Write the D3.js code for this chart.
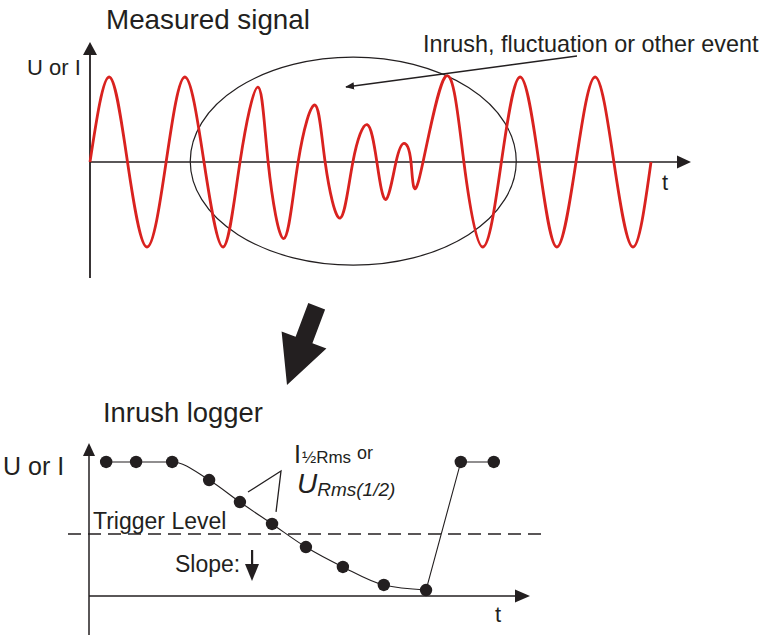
<!DOCTYPE html>
<html>
<head>
<meta charset="utf-8">
<script src="https://cdn.jsdelivr.net/npm/d3@7"></script>
<style>
  body { margin: 0; background: #fff; }
  svg { display: block; font-family: "Liberation Sans", Arial, sans-serif; }
  text { fill: #231f20; }
</style>
</head>
<body>
<svg id="chart" width="763" height="637"></svg>
<script>
// top chart: measured signal, time in ms, value relative to nominal peak
// key points: zero crossings, peaks, troughs
const signalT = [0, 5.1, 10, 15.2, 20.3, 25.3, 30.4, 35.5, 40, 44.8, 47.5, 51.7, 55.5,
  60, 62.7, 66.7, 70.1, 73.9, 76.5, 78.9, 81.6, 83.7, 85.6, 87.7, 94.7, 99.7,
  104.8, 109.7, 114.7, 119.7, 124.5, 129.6, 134.7, 139.7, 144.8, 149.6];
const signalV = [0, 1, 0, -1, 0, 1, 0, -1, 0, 0.88, 0, -0.9, 0,
  0.67, 0, -0.66, 0, 0.44, 0, -0.44, 0, 0.22, 0, -0.21, 1, 0,
  -1, 0, 1, 0, -1, 0, 1, 0, -1, 0];

// bottom chart: half-cycle rms values
const rmsT = [0.39, 1.07, 1.89, 2.73, 3.43, 4.16, 4.93, 5.77, 6.7, 7.66, 8.45, 9.2];
const rmsV = [8.76, 8.76, 8.76, 7.58, 6.14, 4.71, 3.2, 1.9, 0.72, 0.39, 8.76, 8.76];
const triggerLevel = 4.05;

const svg = d3.select("#chart");
const ink = "#231f20";

// ---------- top chart ----------
const x1 = d3.scaleLinear().domain([0, 160]).range([90, 690]);
const y1 = d3.scaleLinear().domain([-1, 1]).range([247, 77]);

svg.append("text").attr("x", 106).attr("y", 29)
  .style("font-size", "27.8px").text("Measured signal");

// axes
svg.append("line").attr("x1", x1(0)).attr("x2", x1(0))
  .attr("y1", 52).attr("y2", 278).attr("stroke", ink).attr("stroke-width", 1.8);
svg.append("path").attr("d", "M83,55L97,55L90,42Z").attr("fill", ink);
svg.append("line").attr("x1", x1(0)).attr("x2", 680)
  .attr("y1", y1(0)).attr("y2", y1(0)).attr("stroke", ink).attr("stroke-width", 1.5);
svg.append("path").attr("d", `M677,${y1(0) - 6.5}L691,${y1(0)}L677,${y1(0) + 6.5}Z`).attr("fill", ink);

svg.append("text").attr("x", 27).attr("y", 75).style("font-size", "22px").text("U or I");
svg.append("text").attr("x", 662).attr("y", 190).style("font-size", "22px").text("t");

// ellipse around the event
svg.append("ellipse")
  .attr("cx", x1(70.2)).attr("cy", y1(0.01))
  .attr("rx", x1(163 / 3.75) - x1(0)).attr("ry", 104)
  .attr("fill", "none").attr("stroke", ink).attr("stroke-width", 1.2);

const signal = signalT.map((t, i) => ({ t, v: signalV[i] }));
const line1 = d3.line().x(d => x1(d.t)).y(d => y1(d.v)).curve(d3.curveNatural);
svg.append("path").datum(signal).attr("d", line1)
  .attr("fill", "none").attr("stroke", "#d9221f").attr("stroke-width", 2.8);

// annotation
svg.append("defs").append("marker")
  .attr("id", "ah").attr("viewBox", "0 0 10 10").attr("refX", 9).attr("refY", 5)
  .attr("markerWidth", 9).attr("markerHeight", 9).attr("orient", "auto")
  .attr("markerUnits", "userSpaceOnUse")
  .append("path").attr("d", "M0,1L10,5L0,9Z").attr("fill", ink);
svg.append("line").attr("x1", 577).attr("y1", 56).attr("x2", 346).attr("y2", 87)
  .attr("stroke", ink).attr("stroke-width", 1.3).attr("marker-end", "url(#ah)");
svg.append("text").attr("x", 423).attr("y", 52).style("font-size", "23.4px")
  .text("Inrush, fluctuation or other event");

// big arrow between the charts
svg.append("path")
  .attr("d", "M308.3,303.1L325.1,309.5L312.4,343.2L326.4,348.5L287,385L281.6,331.5L295.6,336.8Z")
  .attr("fill", ink);

// ---------- bottom chart ----------
const x2 = d3.scaleLinear().domain([0, 10]).range([89, 529]);
const y2 = d3.scaleLinear().domain([0, 10]).range([596, 443]);

svg.append("text").attr("x", 103).attr("y", 422)
  .style("font-size", "27.4px").text("Inrush logger");

svg.append("line").attr("x1", x2(0)).attr("x2", x2(0))
  .attr("y1", 452).attr("y2", 635).attr("stroke", ink).attr("stroke-width", 1.5);
svg.append("path").attr("d", "M83,456L95,456L89,443Z").attr("fill", ink);
svg.append("line").attr("x1", x2(0)).attr("x2", 518)
  .attr("y1", y2(0)).attr("y2", y2(0)).attr("stroke", ink).attr("stroke-width", 1.5);
svg.append("path").attr("d", `M515,${y2(0) - 6.5}L530,${y2(0)}L515,${y2(0) + 6.5}Z`).attr("fill", ink);

svg.append("text").attr("x", 3).attr("y", 475).style("font-size", "25px").text("U or I");
svg.append("text").attr("x", 495).attr("y", 622).style("font-size", "22px").text("t");

// trigger level
svg.append("line").attr("x1", 68).attr("x2", 546)
  .attr("y1", y2(triggerLevel)).attr("y2", y2(triggerLevel))
  .attr("stroke", ink).attr("stroke-width", 1.5).attr("stroke-dasharray", "13,7");
svg.append("text").attr("x", 93).attr("y", 529).style("font-size", "23px").text("Trigger Level");
svg.append("text").attr("x", 175).attr("y", 572).style("font-size", "23px").text("Slope:");
svg.append("rect").attr("x", 251).attr("y", 550).attr("width", 2.2).attr("height", 16).attr("fill", ink);
svg.append("path").attr("d", "M245,564L259,564L252,581Z").attr("fill", ink);

// rms line: smooth fall, then step back up
const rms = rmsT.map((t, i) => ({ t, v: rmsV[i] }));
const fall = d3.line().x(d => x2(d.t)).y(d => y2(d.v)).curve(d3.curveMonotoneX);
const rise = d3.line().x(d => x2(d.t)).y(d => y2(d.v));
svg.append("path").datum(rms.slice(0, 10)).attr("d", fall)
  .attr("fill", "none").attr("stroke", ink).attr("stroke-width", 1.1);
svg.append("path").datum(rms.slice(9)).attr("d", rise)
  .attr("fill", "none").attr("stroke", ink).attr("stroke-width", 1.1);
svg.selectAll(".dot").data(rms).join("circle")
  .attr("class", "dot")
  .attr("cx", d => x2(d.t)).attr("cy", d => y2(d.v)).attr("r", 6.2)
  .attr("fill", ink);

// labels for rms points
svg.append("path").attr("d", `M248,492L281,471L${x2(rmsT[5]) + 4},${y2(rmsV[5]) - 12}`)
  .attr("fill", "none").attr("stroke", ink).attr("stroke-width", 1.3);
const lab1 = svg.append("text").attr("x", 294).attr("y", 463);
lab1.append("tspan").style("font-size", "25px").text("I");
lab1.append("tspan").style("font-size", "17px").attr("dx", 1).text("½Rms");
svg.append("text").attr("x", 357).attr("y", 459).style("font-size", "18px").text("or");
const lab2 = svg.append("text").attr("x", 297).attr("y", 493).style("font-style", "italic");
lab2.append("tspan").style("font-size", "28px").text("U");
lab2.append("tspan").style("font-size", "19px").attr("dy", 3).text("Rms(1/2)");
</script>
</body>
</html>
